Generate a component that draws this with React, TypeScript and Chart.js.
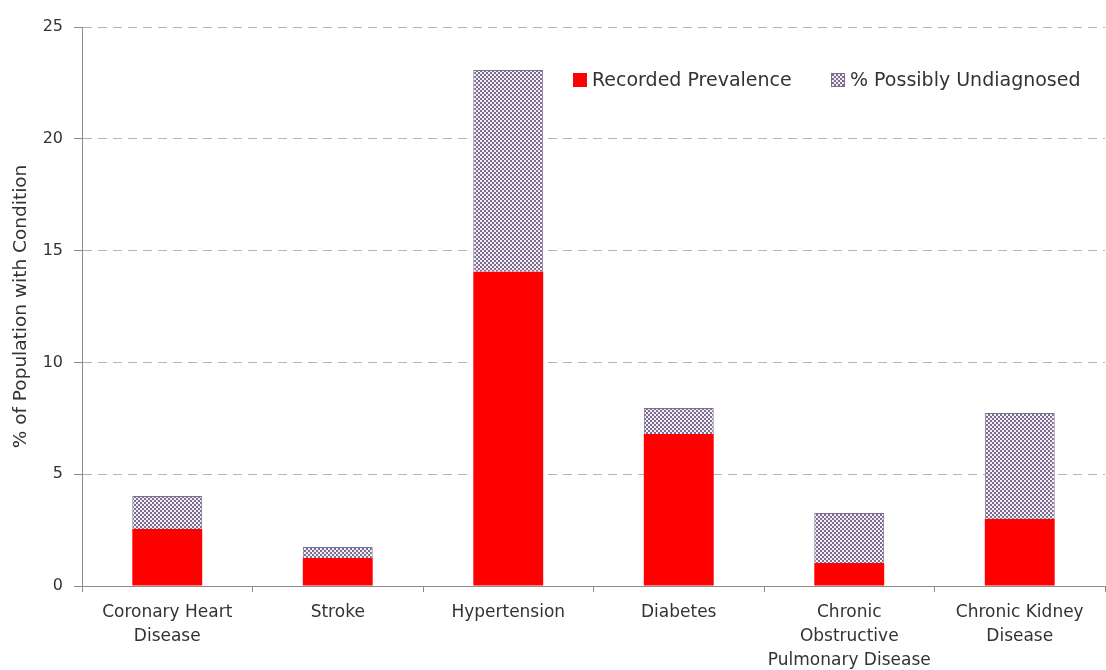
import React, { useEffect, useRef } from "react";
import { Chart, registerables } from "chart.js";

Chart.register(...registerables);

const categories: string[][] = [
  ["Coronary Heart", "Disease"],
  ["Stroke"],
  ["Hypertension"],
  ["Diabetes"],
  ["Chronic", "Obstructive", "Pulmonary Disease"],
  ["Chronic Kidney", "Disease"],
];
const recordedPrevalence: number[] = [2.55, 1.25, 14.05, 6.8, 1.03, 3.0];
const possiblyUndiagnosed: number[] = [1.47, 0.49, 9.03, 1.16, 2.23, 4.74];
const yTicks: number[] = [0, 5, 10, 15, 20, 25];
const seriesNames: string[] = ["Recorded Prevalence", "% Possibly Undiagnosed"];
const yTitle = "% of Population with Condition";

const FONT = "'DejaVu Sans', sans-serif";
const RED = "#ff0000";
const HATCH_DARK = "#7a6e8c";
const TEXT = "#333333";
const AXIS = "#8c8c8c";

function makePattern(): CanvasPattern | string {
  const c = document.createElement("canvas");
  c.width = 4;
  c.height = 4;
  const ctx = c.getContext("2d");
  if (!ctx) return HATCH_DARK;
  ctx.fillStyle = HATCH_DARK;
  ctx.fillRect(0, 0, 4, 4);
  ctx.fillStyle = "#f4eefa";
  ctx.fillRect(0, 0, 2, 2);
  ctx.fillRect(2, 2, 2, 2);
  const p = ctx.createPattern(c, "repeat");
  return p || HATCH_DARK;
}

export default function App() {
  const ref = useRef<HTMLCanvasElement | null>(null);

  useEffect(() => {
    if (!ref.current) return;
    const pattern = makePattern();

    const legendPlugin = {
      id: "insideLegend",
      afterDatasetsDraw(chart: any) {
        const { ctx, chartArea } = chart;
        ctx.save();
        const cy = chartArea.top + 53;
        const items = [
          { x: chartArea.left + 491, fill: RED as any, border: null as string | null, label: seriesNames[0] },
          { x: chartArea.left + 749, fill: pattern as any, border: HATCH_DARK, label: seriesNames[1] },
        ];
        ctx.font = `19px ${FONT}`;
        ctx.textBaseline = "middle";
        ctx.textAlign = "left";
        for (const it of items) {
          ctx.fillStyle = it.fill;
          ctx.fillRect(it.x, cy - 7, 14, 14);
          if (it.border) {
            ctx.strokeStyle = it.border;
            ctx.lineWidth = 1;
            ctx.strokeRect(it.x + 0.5, cy - 6.5, 13, 13);
          }
          ctx.fillStyle = TEXT;
          ctx.fillText(it.label, it.x + 19, cy + 1);
        }
        ctx.restore();
      },
    };

    const chart = new Chart(ref.current, {
      type: "bar",
      data: {
        labels: categories,
        datasets: [
          {
            label: seriesNames[0],
            data: recordedPrevalence,
            backgroundColor: RED,
            borderWidth: 0,
            barPercentage: 0.82,
            categoryPercentage: 0.5,
          },
          {
            label: seriesNames[1],
            data: possiblyUndiagnosed,
            backgroundColor: pattern as any,
            borderColor: HATCH_DARK,
            borderWidth: 1,
            borderSkipped: "bottom",
            barPercentage: 0.82,
            categoryPercentage: 0.5,
          },
        ],
      },
      options: {
        animation: false,
        responsive: true,
        maintainAspectRatio: false,
        layout: { padding: { top: 27, right: 1, left: 0, bottom: 0 } },
        plugins: {
          legend: { display: false },
          tooltip: { enabled: false },
        },
        scales: {
          x: {
            stacked: true,
            offset: true,
            grid: {
              display: true,
              offset: true,
              drawOnChartArea: false,
              drawTicks: true,
              tickLength: 6,
              tickColor: AXIS,
            },
            border: { display: true, color: AXIS, width: 1 },
            ticks: {
              color: TEXT,
              font: { family: FONT, size: 17, lineHeight: 1.4 },
              padding: 9,
              maxRotation: 0,
              autoSkip: false,
            },
            afterFit(scale: any) {
              scale.height = 84;
            },
          },
          y: {
            stacked: true,
            min: 0,
            max: 25,
            afterBuildTicks(scale: any) {
              scale.ticks = yTicks.map((v) => ({ value: v }));
            },
            grid: {
              color: (c: any) => (c.tick && c.tick.value === 0 ? "rgba(0,0,0,0)" : "#b4b4b4"),
              drawTicks: true,
              tickLength: 8,
              tickColor: AXIS,
              tickBorderDash: [],
            } as any,
            border: { display: true, color: AXIS, width: 1, dash: [9, 6] },
            ticks: {
              color: TEXT,
              font: { family: FONT, size: 16 },
              padding: 11,
            },
            title: {
              display: true,
              text: yTitle,
              color: TEXT,
              font: { family: FONT, size: 18.5 },
              padding: { top: 10, bottom: 0 },
            },
            afterFit(scale: any) {
              scale.width = 82;
            },
          },
        },
      },
      plugins: [legendPlugin],
    });

    return () => chart.destroy();
  }, []);

  return (
    <div style={{ position: "fixed", left: 0, top: 0, width: 1106, height: 670, background: "#ffffff" }}>
      <canvas ref={ref} />
    </div>
  );
}
